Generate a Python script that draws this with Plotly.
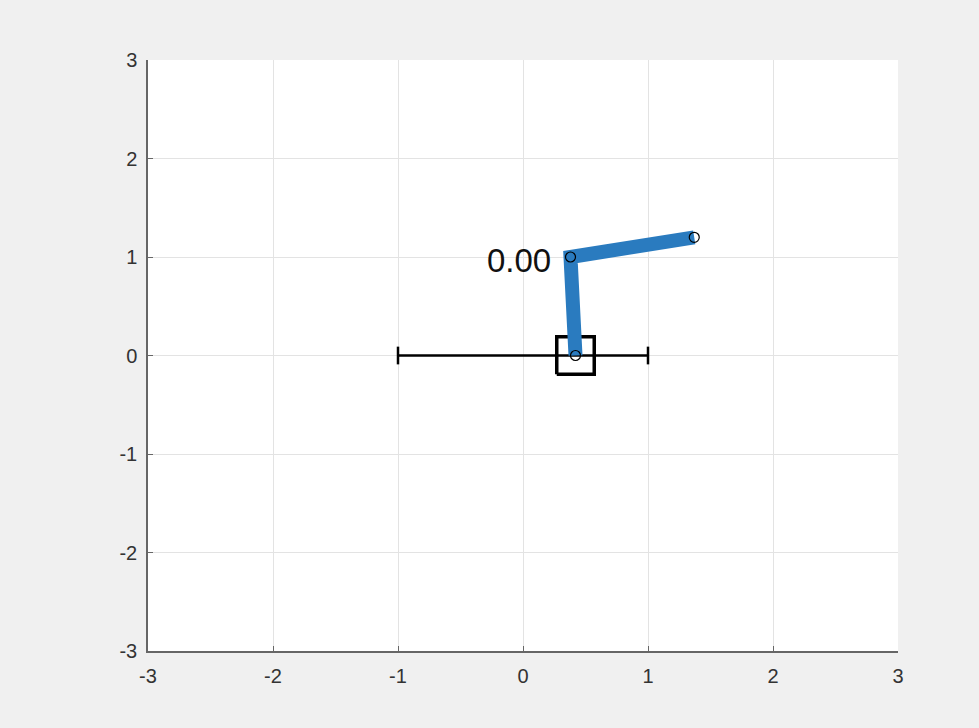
import plotly.graph_objects as go

# Data
tick_vals = [-3, -2, -1, 0, 1, 2, 3]
tick_text = ["-3", "-2", "-1", "0", "1", "2", "3"]
pend_x = [0.42, 0.38, 1.37]
pend_y = [0.0, 1.0, 1.2]
track_x = [-1, 1]
track_y = [0, 0]
cap_half = 0.09
cart_cx = 0.42
cart_cy = 0.0
cart_hw = 0.15
cart_hh = 0.19
time_label = "0.00"
label_x = 0.24
label_y = 0.96

fig = go.Figure()

# track
fig.add_trace(go.Scatter(x=track_x, y=track_y, mode="lines",
                         line=dict(color="black", width=2.5), hoverinfo="skip"))
for tx in track_x:
    fig.add_trace(go.Scatter(x=[tx, tx], y=[-cap_half, cap_half], mode="lines",
                             line=dict(color="black", width=2.5), hoverinfo="skip"))

# cart
fig.add_trace(go.Scatter(
    x=[cart_cx - cart_hw, cart_cx + cart_hw, cart_cx + cart_hw, cart_cx - cart_hw, cart_cx - cart_hw],
    y=[cart_cy - cart_hh, cart_cy - cart_hh, cart_cy + cart_hh, cart_cy + cart_hh, cart_cy - cart_hh],
    mode="lines", line=dict(color="black", width=3.5), hoverinfo="skip"))

# pendulum
fig.add_trace(go.Scatter(x=pend_x, y=pend_y, mode="lines",
                         line=dict(color="#2a7bbf", width=14), hoverinfo="skip"))
fig.add_trace(go.Scatter(x=pend_x, y=pend_y, mode="markers",
                         marker=dict(symbol="circle-open", size=10, color="black",
                                     line=dict(width=1.2, color="black")), hoverinfo="skip"))

fig.add_annotation(x=label_x, y=label_y, text=time_label, showarrow=False,
                   xanchor="right", yanchor="middle",
                   font=dict(family="Liberation Sans, Arial", size=33, color="#111111"))

axis_common = dict(
    range=[-3, 3], tickvals=tick_vals, ticktext=tick_text,
    showgrid=True, gridcolor="#e3e3e3", gridwidth=1,
    zeroline=False, showline=True, linecolor="#666666", linewidth=1.5,
    mirror=False, ticks="inside", ticklen=5, tickcolor="#666666",
    tickfont=dict(family="Liberation Sans, Arial", size=20, color="#333333"),
)

fig.update_layout(
    width=979, height=728,
    margin=dict(l=148, r=81, t=60, b=77),
    paper_bgcolor="#f0f0f0", plot_bgcolor="white",
    showlegend=False,
    xaxis=dict(**axis_common, ticklabelstandoff=6),
    yaxis=dict(**axis_common, ticklabelstandoff=5),
)

fig.write_html("out.html")
